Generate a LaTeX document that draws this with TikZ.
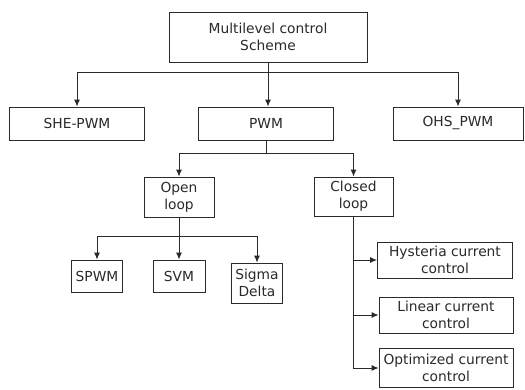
\documentclass[tikz,border=0pt]{standalone}
\usepackage{fontspec}
\setmainfont{DejaVu Sans}
\usetikzlibrary{arrows.meta}
\definecolor{ink}{HTML}{2A2A2A}
\begin{document}
\begin{tikzpicture}[x=1pt,y=-1pt,
  box/.style={draw=ink,line width=0.9pt,text=ink,inner sep=1pt,align=center,
    font=\fontsize{13.8}{17}\selectfont},
  arr/.style={draw=ink,line width=0.9pt,-{Latex[length=7pt,width=6pt]}},
  ln/.style={draw=ink,line width=0.9pt}]
\useasboundingbox[fill=white] (0,0) rectangle (525,389);
\node[box,minimum width=198pt,minimum height=50pt] (top) at (268,37) {Multilevel control\\Scheme};
\node[box,minimum width=135pt,minimum height=33pt] (she) at (77,123.5) {SHE-PWM};
\node[box,minimum width=135pt,minimum height=33pt] (pwm) at (266,123.5) {PWM};
\node[box,minimum width=130pt,minimum height=33pt] (ohs) at (458,123.5) {OHS\_PWM};
\node[box,minimum width=70pt,minimum height=40pt] (open) at (179,197) {Open\\loop};
\node[box,minimum width=79pt,minimum height=39pt] (closed) at (353.5,196.5) {Closed\\loop};
\node[box,minimum width=51pt,minimum height=32pt] (spwm) at (97,276) {SPWM};
\node[box,minimum width=52pt,minimum height=32pt] (svm) at (179,276) {SVM};
\node[box,minimum width=51pt,minimum height=40pt] (sigma) at (257,283) {Sigma\\Delta};
\node[box,minimum width=135pt,minimum height=36pt] (hys) at (445,260) {Hysteria current\\control};
\node[box,minimum width=134pt,minimum height=36pt] (lin) at (446,315) {Linear current\\control};
\node[box,minimum width=134pt,minimum height=39pt] (opt) at (446,368) {Optimized current\\control};
% top level
\draw[ln] (top.south) -- ++(0,10) coordinate (j1);
\draw[arr] (j1) -| (she.north);
\draw[arr] (j1) -| (ohs.north);
\draw[arr] (j1) -- (j1 |- pwm.north);
% PWM
\draw[ln] (pwm.south) -- ++(0,13) coordinate (j2);
\draw[arr] (j2) -| (open.north);
\draw[arr] (j2) -| (closed.north);
% open loop
\draw[ln] (open.south) -- ++(0,19) coordinate (j3);
\draw[arr] (j3) -| (spwm.north);
\draw[arr] (j3) -| (sigma.north);
\draw[arr] (j3) -- (svm.north);
% closed loop
\draw[arr] (closed.south) |- (hys.west);
\draw[arr] (closed.south) |- (lin.west);
\draw[arr] (closed.south) |- (opt.west);
\end{tikzpicture}
\end{document}
